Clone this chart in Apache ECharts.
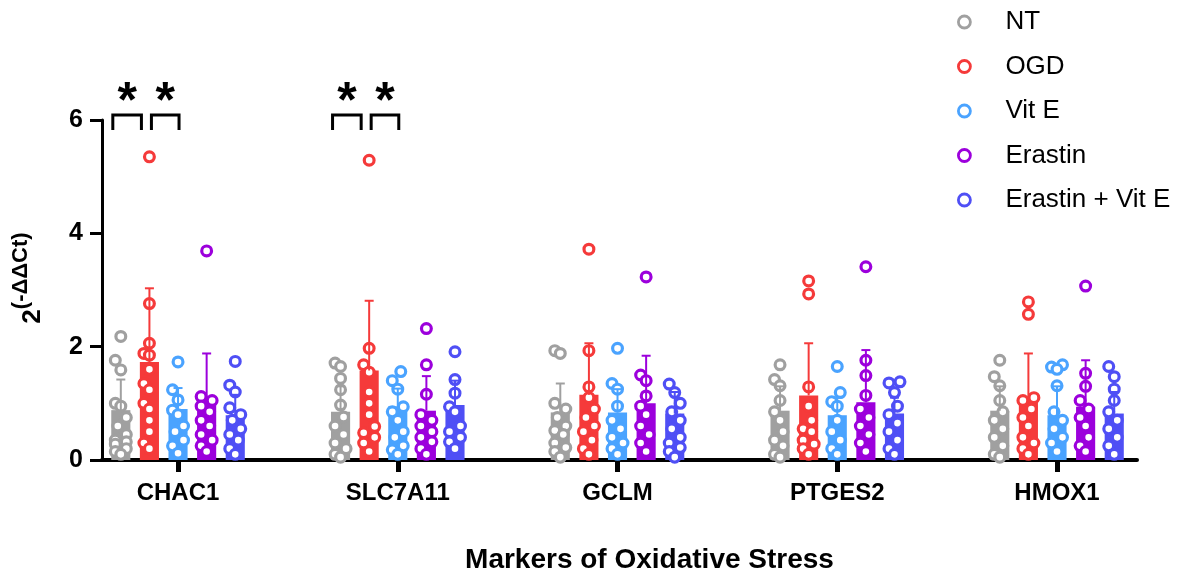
<!DOCTYPE html>
<html>
<head>
<meta charset="utf-8">
<script src="https://cdn.jsdelivr.net/npm/echarts@6/dist/echarts.min.js"></script>
<style>
  html, body { margin: 0; padding: 0; background: #fff; }
  #chart { width: 1184px; height: 571px; }
</style>
</head>
<body>
<div id="chart"></div>
<script>
// Genes on the x axis and treatment groups
const markers = ['CHAC1', 'SLC7A11', 'GCLM', 'PTGES2', 'HMOX1'];
const treatments = ['NT', 'OGD', 'Vit E', 'Erastin', 'Erastin + Vit E'];
const yTicks = [0, 2, 4, 6];

// Group means, one value per marker
const meanNT          = [0.88, 0.85, 0.84, 0.87, 0.87];
const meanOGD         = [1.73, 1.58, 1.15, 1.14, 1.03];
const meanVitE        = [0.90, 0.95, 0.84, 0.79, 0.79];
const meanErastin     = [1.05, 0.87, 1.00, 1.02, 0.94];
const meanErastinVitE = [0.79, 0.97, 0.82, 0.82, 0.82];

// Mean + SD (top of the upper whisker)
const sdTopNT          = [1.42, 1.30, 1.35, 1.30, 1.30];
const sdTopOGD         = [3.03, 2.81, 2.06, 2.06, 1.88];
const sdTopVitE        = [1.27, 1.26, 1.25, 1.10, 1.30];
const sdTopErastin     = [1.88, 1.48, 1.84, 1.94, 1.76];
const sdTopErastinVitE = [1.15, 1.40, 1.20, 1.10, 1.20];

// Individual replicates, one list per marker
const dotsNT = [
  [2.18, 1.76, 1.59, 1.00, 0.95, 0.75, 0.60, 0.45, 0.35, 0.32, 0.28, 0.20, 0.15, 0.10],
  [1.71, 1.65, 1.44, 1.24, 0.97, 0.76, 0.60, 0.45, 0.30, 0.20, 0.10, 0.05],
  [1.93, 1.88, 1.00, 0.90, 0.75, 0.60, 0.52, 0.45, 0.30, 0.22, 0.15, 0.05],
  [1.68, 1.42, 1.31, 1.05, 0.85, 0.70, 0.50, 0.35, 0.25, 0.10, 0.05],
  [1.76, 1.47, 1.31, 1.05, 0.85, 0.70, 0.55, 0.40, 0.25, 0.10, 0.05]
];
const dotsOGD = [
  [5.35, 2.76, 2.06, 1.88, 1.85, 1.60, 1.35, 1.24, 1.00, 0.90, 0.70, 0.50, 0.30, 0.20],
  [5.29, 1.97, 1.68, 1.55, 1.20, 1.00, 0.80, 0.59, 0.48, 0.40, 0.30, 0.15],
  [3.72, 1.93, 1.29, 1.10, 0.90, 0.75, 0.60, 0.50, 0.35, 0.20, 0.10],
  [3.16, 2.93, 1.29, 0.95, 0.70, 0.55, 0.50, 0.35, 0.28, 0.20, 0.10],
  [2.79, 2.57, 1.10, 1.05, 0.90, 0.75, 0.60, 0.40, 0.30, 0.20, 0.10]
];
const dotsVitE = [
  [1.73, 1.24, 1.06, 0.88, 0.80, 0.60, 0.50, 0.35, 0.25, 0.12],
  [1.56, 1.40, 1.25, 0.94, 0.85, 0.70, 0.50, 0.40, 0.25, 0.18, 0.10],
  [1.97, 1.35, 1.25, 0.95, 0.70, 0.55, 0.40, 0.30, 0.20, 0.10],
  [1.65, 1.19, 1.03, 0.95, 0.70, 0.50, 0.35, 0.20, 0.10],
  [1.68, 1.64, 1.60, 1.31, 0.85, 0.70, 0.55, 0.40, 0.30, 0.15]
];
const dotsErastin = [
  [3.69, 1.12, 1.05, 0.95, 0.85, 0.70, 0.60, 0.45, 0.35, 0.25, 0.15],
  [2.32, 1.68, 1.16, 0.80, 0.70, 0.60, 0.50, 0.40, 0.32, 0.20, 0.10],
  [3.23, 1.50, 1.40, 1.13, 0.95, 0.80, 0.60, 0.45, 0.30, 0.15],
  [3.41, 1.76, 1.49, 1.14, 0.90, 0.75, 0.60, 0.45, 0.30, 0.15],
  [3.07, 1.53, 1.30, 1.05, 0.90, 0.75, 0.60, 0.40, 0.25, 0.15]
];
const dotsErastinVitE = [
  [1.74, 1.32, 1.20, 0.92, 0.80, 0.70, 0.55, 0.45, 0.35, 0.20, 0.10],
  [1.91, 1.42, 1.18, 0.94, 0.85, 0.60, 0.50, 0.40, 0.32, 0.20],
  [1.34, 1.19, 1.00, 0.85, 0.70, 0.55, 0.40, 0.30, 0.22, 0.15, 0.05],
  [1.38, 1.36, 1.19, 0.95, 0.80, 0.65, 0.50, 0.35, 0.20, 0.10],
  [1.65, 1.47, 1.25, 1.05, 0.85, 0.70, 0.55, 0.40, 0.25, 0.10]
];

// Significant comparisons: [marker index, treatment a, treatment b, label]
const sigPairs = [
  [0, 0, 1, '*'], [0, 1, 2, '*'],
  [1, 0, 1, '*'], [1, 1, 2, '*']
];

const colors = ['#a0a0a0', '#f53a3a', '#4aa3ff', '#9c00dc', '#4f4ff5'];
const means = [meanNT, meanOGD, meanVitE, meanErastin, meanErastinVitE];
const sdTops = [sdTopNT, sdTopOGD, sdTopVitE, sdTopErastin, sdTopErastinVitE];
const dotSets = [dotsNT, dotsOGD, dotsVitE, dotsErastin, dotsErastinVitE];

const FONT = 'Liberation Sans, Arial, Helvetica, sans-serif';
const BAR_STEP = 0.1302;   // spacing between bars inside a marker, in axis units
const BAR_W = 0.087;       // bar width, in axis units
const DOT_R = 4.9;
const DOT_LW = 3.2;

// Spread replicate dots sideways so that they stay readable inside a bar
function swarm(ys) {
  const order = ys.map((y, i) => i).sort((a, b) => ys[b] - ys[a]);
  const placed = [];
  const out = new Array(ys.length);
  const cands = [0, -3, 3, -5.5, 5.5];
  const minDist = 11.5;
  for (const i of order) {
    let best = 0, bestScore = Infinity;
    for (const dx of cands) {
      let score = Math.abs(dx) * 0.2;
      for (const p of placed) {
        const d = Math.hypot(p.dx - dx, p.y - ys[i]);
        if (d < minDist) score += minDist - d;
      }
      if (score < bestScore - 1e-9) { bestScore = score; best = dx; }
    }
    const pt = { dx: best, y: ys[i] };
    placed.push(pt);
    out[i] = pt;
  }
  return out;
}

function barCenter(api, g, t) {
  const unit = api.size([1, 0])[0];
  return api.coord([g, 0])[0] + (t - 2) * unit * BAR_STEP;
}

function makeRender(t) {
  const color = colors[t];
  return function (params, api) {
    const g = api.value(0);
    const unit = api.size([1, 0])[0];
    const cx = barCenter(api, g, t);
    const y0 = api.coord([g, 0])[1];
    const yMean = api.coord([g, api.value(1)])[1];
    const yTop = api.coord([g, api.value(2)])[1];
    const bw = unit * BAR_W;
    const children = [{
      type: 'rect',
      shape: { x: cx - bw / 2, y: yMean, width: bw, height: y0 - yMean },
      style: { fill: color }
    }];
    const vals = dotSets[t][params.dataIndex];
    swarm(vals.map(v => api.coord([g, v])[1])).forEach(p => {
      children.push({
        type: 'circle',
        shape: { cx: cx + p.dx, cy: p.y, r: DOT_R },
        style: { fill: '#fff', stroke: color, lineWidth: DOT_LW }
      });
    });
    children.push({
      type: 'line',
      shape: { x1: cx, y1: yMean, x2: cx, y2: yTop },
      style: { stroke: color, lineWidth: 2 }
    });
    children.push({
      type: 'line',
      shape: { x1: cx - 4.5, y1: yTop, x2: cx + 4.5, y2: yTop },
      style: { stroke: color, lineWidth: 2 }
    });
    return { type: 'group', children };
  };
}

const treatmentSeries = treatments.map((name, t) => ({
  name,
  type: 'custom',
  renderItem: makeRender(t),
  data: markers.map((m, g) => [g, means[t][g], sdTops[t][g]]),
  z: 3
}));

// Brackets and stars above the bars
const bracketSeries = {
  type: 'custom',
  name: 'significance',
  silent: true,
  z: 4,
  renderItem: function (params, api) {
    const g = api.value(0), a = api.value(1), b = api.value(2);
    const first = a === 0;
    const x1 = barCenter(api, g, a) + (first ? -8 : 2);
    const x2 = barCenter(api, g, b) + (first ? -8 : 1);
    const yAxisTop = api.coord([g, yTicks[yTicks.length - 1]])[1];
    const top = yAxisTop - 5;
    const legs = top + 15;
    return {
      type: 'group',
      children: [
        {
          type: 'polyline',
          shape: { points: [[x1, legs], [x1, top], [x2, top], [x2, legs]] },
          style: { stroke: '#000', lineWidth: 3, fill: null }
        },
        {
          type: 'text',
          style: {
            text: sigPairs[params.dataIndex][3],
            x: (x1 + x2) / 2, y: top - 12,
            align: 'center', verticalAlign: 'middle',
            font: 'bold 50px ' + FONT, fill: '#000'
          }
        }
      ]
    };
  },
  data: sigPairs.map(p => [p[0], p[1], p[2]])
};

const chart = echarts.init(document.getElementById('chart'), null, { renderer: 'canvas' });
chart.setOption({
  animation: false,
  backgroundColor: '#fff',
  textStyle: { fontFamily: FONT },
  grid: { left: 102, right: 47, top: 120, bottom: 111, containLabel: false, outerBoundsMode: 'none' },
  legend: {
    orient: 'vertical',
    left: 952,
    top: 4,
    itemWidth: 12,
    itemHeight: 12,
    itemGap: 18.5,
    selectedMode: false,
    data: treatments.map((name, t) => ({
      name,
      icon: 'circle',
      itemStyle: { color: '#fff', borderColor: colors[t], borderWidth: 2.8 }
    })),
    textStyle: { fontSize: 26, color: '#000', fontFamily: FONT, padding: [0, 0, 0, 30] }
  },
  xAxis: {
    type: 'value',
    min: -0.346,
    max: 4.364,
    axisLine: { show: true, onZero: false, lineStyle: { color: '#000', width: 4 } },
    axisTick: {
      show: true,
      customValues: markers.map((m, i) => i),
      length: 12,
      lineStyle: { color: '#000', width: 5 }
    },
    axisLabel: {
      customValues: markers.map((m, i) => i),
      formatter: v => markers[Math.round(v)],
      fontSize: 24,
      fontWeight: 'bold',
      color: '#000',
      margin: 21,
      fontFamily: FONT
    },
    splitLine: { show: false },
    name: 'Markers of Oxidative Stress',
    nameLocation: 'middle',
    nameGap: 86,
    nameTextStyle: { fontSize: 28, fontWeight: 'bold', color: '#000', fontFamily: FONT, padding: [0, 0, 0, 60] }
  },
  yAxis: {
    type: 'value',
    min: yTicks[0],
    max: yTicks[yTicks.length - 1],
    interval: yTicks[1] - yTicks[0],
    axisLine: { show: true, onZero: false, lineStyle: { color: '#000', width: 3 } },
    axisTick: { show: true, length: 12, lineStyle: { color: '#000', width: 3 } },
    axisLabel: { fontSize: 25, fontWeight: 'bold', color: '#000', margin: 19, fontFamily: FONT },
    splitLine: { show: false },
    name: '{b|2}{s|(-ΔΔCt)}',
    nameLocation: 'middle',
    nameRotate: 90,
    nameGap: 56,
    nameTextStyle: {
      padding: [0, 0, 0, 24],
      rich: {
        b: { fontSize: 26, fontWeight: 'bold', color: '#000', fontFamily: FONT, verticalAlign: 'bottom', lineHeight: 36 },
        s: { fontSize: 22, fontWeight: 'bold', color: '#000', fontFamily: FONT, verticalAlign: 'top', lineHeight: 36 }
      }
    }
  },
  series: treatmentSeries.concat([bracketSeries])
});
</script>
</body>
</html>
